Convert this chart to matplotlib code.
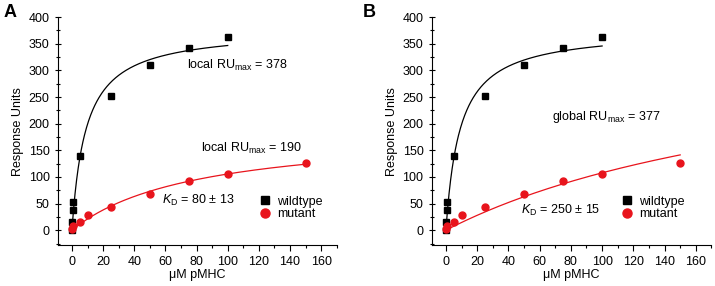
import numpy as np
import matplotlib
matplotlib.use("Agg")
import matplotlib.pyplot as plt
from matplotlib.ticker import MultipleLocator

plt.rcParams["font.family"] = ["Liberation Sans", "DejaVu Sans"]
plt.rcParams["mathtext.fontset"] = "custom"
plt.rcParams["mathtext.rm"] = "Liberation Sans"
plt.rcParams["mathtext.it"] = "Liberation Sans:italic"

# measured points
wt_conc = [0, 0.2, 0.5, 1, 5, 25, 50, 75, 100]
wt_ru = [0, 16, 37, 53, 140, 252, 310, 343, 362]
mut_conc = [0, 1, 5, 10, 25, 50, 75, 100, 150]
mut_ru = [2, 7, 16, 28, 43, 68, 93, 106, 126]

# fit parameters (1:1 binding, RU = RUmax * c / (KD + c))
wt_kd = 9.0
fit_a = {"wt_rumax": 378, "mut_rumax": 190, "mut_kd": 80}
fit_b = {"wt_rumax": 377, "mut_rumax": 377, "mut_kd": 250}

RED = "#e8141c"


def langmuir(c, rumax, kd):
    return rumax * c / (kd + c)


def draw_panel(ax, fit, texts, legend_x):
    cw = np.linspace(0, 100, 300)
    cm = np.linspace(0, 150, 300)
    ax.plot(cw, langmuir(cw, fit["wt_rumax"], wt_kd), color="black", lw=0.9)
    ax.plot(cm, langmuir(cm, fit["mut_rumax"], fit["mut_kd"]), color=RED, lw=0.9)
    ax.plot(wt_conc, wt_ru, "s", color="black", ms=4.5, label="wildtype")
    ax.plot(mut_conc, mut_ru, "o", color=RED, ms=5, label="mutant")

    for x, y, s in texts:
        ax.text(x, y, s, fontsize=9, va="center", ha="left")

    ax.set_xlim(-9, 170)
    ax.set_ylim(-28, 400)
    ax.xaxis.set_major_locator(MultipleLocator(20))
    ax.xaxis.set_minor_locator(MultipleLocator(10))
    ax.yaxis.set_major_locator(MultipleLocator(50))
    ax.yaxis.set_minor_locator(MultipleLocator(25))
    ax.spines["top"].set_visible(False)
    ax.spines["right"].set_visible(False)
    ax.spines["left"].set_bounds(-28, 400)
    ax.tick_params(axis="y", which="major", direction="inout", length=5, labelsize=9, width=0.8)
    ax.tick_params(axis="y", which="minor", direction="inout", length=3, width=0.8)
    ax.tick_params(axis="x", which="major", direction="out", length=4, labelsize=9, width=0.8)
    ax.tick_params(axis="x", which="minor", direction="out", length=2.5, width=0.8)
    ax.set_xlabel("\u03bcM pMHC", fontsize=9, labelpad=1)
    ax.set_ylabel("Response Units", fontsize=9, labelpad=3)
    ax.legend(loc="lower right", bbox_to_anchor=(legend_x, 0.06), frameon=False,
              fontsize=9, handletextpad=0.4, labelspacing=0.05, handlelength=1.2,
              markerscale=1.3)


fig = plt.figure(figsize=(7.15, 2.86), dpi=100)
ax_a = fig.add_axes([0.081, 0.143, 0.390, 0.797])
ax_b = fig.add_axes([0.604, 0.143, 0.391, 0.797])

draw_panel(ax_a, fit_a, [
    (74, 309, r"local RU$_{\rm max}$ = 378"),
    (83, 153, r"local RU$_{\rm max}$ = 190"),
    (58, 55, r"$K$$_{\rm D}$ = 80 ± 13"),
], 0.99)
draw_panel(ax_b, fit_b, [
    (68, 213, r"global RU$_{\rm max}$ = 377"),
    (48, 38, r"$K$$_{\rm D}$ = 250 ± 15"),
], 0.944)

fig.text(0.005, 0.955, "A", fontsize=13, fontweight="bold", va="center")
fig.text(0.507, 0.955, "B", fontsize=13, fontweight="bold", va="center")

fig.savefig("out.png", dpi=100)
